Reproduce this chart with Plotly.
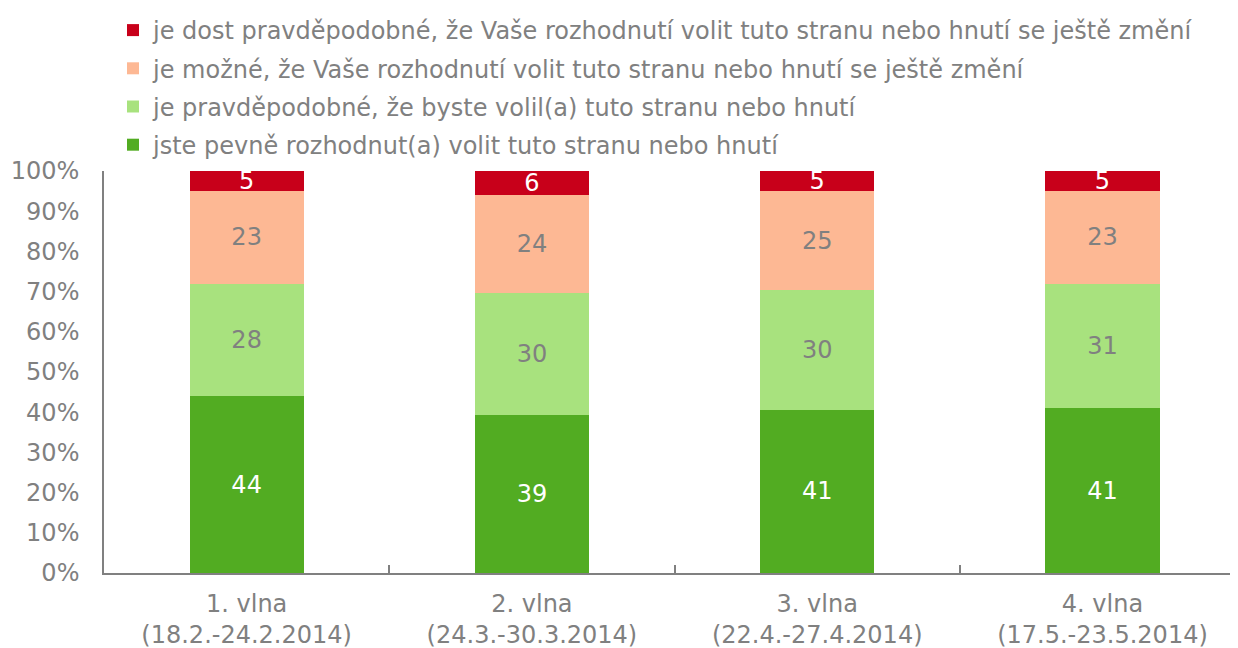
import plotly.graph_objects as go

categories = ["1. vlna<br>(18.2.-24.2.2014)", "2. vlna<br>(24.3.-30.3.2014)",
              "3. vlna<br>(22.4.-27.4.2014)", "4. vlna<br>(17.5.-23.5.2014)"]
series_names = [
    "jste pevně rozhodnut(a) volit tuto stranu nebo hnutí",
    "je pravděpodobné, že byste volil(a) tuto stranu nebo hnutí",
    "je možné, že Vaše rozhodnutí volit tuto stranu nebo hnutí se ještě změní",
    "je dost pravděpodobné, že Vaše rozhodnutí volit tuto stranu nebo hnutí se ještě změní",
]
pevne = [44, 39, 41, 41]
pravdepodobne = [28, 30, 30, 31]
mozne = [23, 24, 25, 23]
dost_pravdepodobne = [5, 6, 5, 5]
y_ticks = [0, 10, 20, 30, 40, 50, 60, 70, 80, 90, 100]
y_tick_labels = [f"{v}%" for v in y_ticks]

values = [pevne, pravdepodobne, mozne, dost_pravdepodobne]
colors = ["#52AC22", "#A8E27E", "#FDB894", "#C8001A"]
text_colors = ["#FFFFFF", "#808080", "#808080", "#FFFFFF"]

FONT = "DejaVu Sans"
GREY = "#808080"
FS = 24

fig = go.Figure()
for i, (name, vals) in enumerate(zip(series_names, values)):
    fig.add_trace(go.Bar(
        x=categories, y=vals, name=name,
        marker=dict(color=colors[i], line=dict(width=0)),
        width=0.4,
        text=[str(v) for v in vals],
        textposition="inside",
        insidetextanchor="middle",
        textangle=0,
        constraintext="none",
        textfont=dict(family=FONT, size=FS, color=text_colors[i]),
        legendgroup=f"g{i}",
        legendrank=10 - i,
        hoverinfo="skip",
    ))

fig.update_layout(
    width=1230, height=640,
    barmode="stack", barnorm="percent",
    paper_bgcolor="white", plot_bgcolor="white",
    margin=dict(l=96, r=0, t=163, b=75, autoexpand=False),
    font=dict(family=FONT, size=FS, color=GREY),
    legend=dict(
        xref="container", yref="container",
        x=105 / 1230, y=1 + 17 / 640, xanchor="left", yanchor="top",
        traceorder="grouped", tracegroupgap=4,
        font=dict(family=FONT, size=FS, color=GREY),
        bgcolor="rgba(0,0,0,0)",
    ),
    showlegend=True,
)
fig.update_xaxes(
    range=[-0.5, 3.475], showline=True, linecolor=GREY, linewidth=1.5,
    ticks="inside", tickson="boundaries", ticklen=8, tickcolor=GREY, tickwidth=1.5,
    showgrid=False, tickangle=0, ticklabelstandoff=8,
    tickfont=dict(family=FONT, size=FS, color=GREY),
)
fig.update_yaxes(
    range=[0, 100], tickmode="array", tickvals=y_ticks, ticktext=y_tick_labels,
    showline=True, linecolor=GREY, linewidth=1.5, showgrid=False, zeroline=False,
    ticks="", ticklabelstandoff=18,
    tickfont=dict(family=FONT, size=FS, color=GREY),
)

fig.write_html("out.html")
